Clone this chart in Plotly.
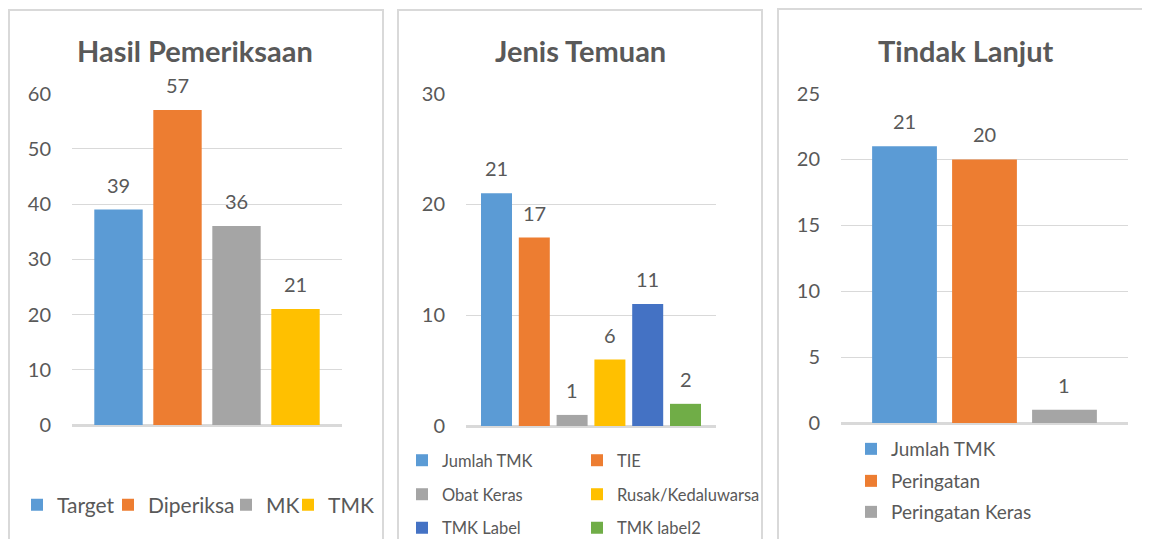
import plotly.graph_objects as go

# ---------------- data ----------------
p1_title = "Hasil Pemeriksaan"
p1_names = ["Target", "Diperiksa", "MK", "TMK"]
p1_values = [39, 57, 36, 21]
p1_ticks = [0, 10, 20, 30, 40, 50, 60]

p2_title = "Jenis Temuan"
p2_names = ["Jumlah TMK", "TIE", "Obat Keras", "Rusak/Kedaluwarsa", "TMK Label", "TMK label2"]
p2_values = [21, 17, 1, 6, 11, 2]
p2_ticks = [0, 10, 20, 30]

p3_title = "Tindak Lanjut"
p3_names = ["Jumlah TMK", "Peringatan", "Peringatan Keras"]
p3_values = [21, 20, 1]
p3_ticks = [0, 5, 10, 15, 20, 25]

# ---------------- styles ----------------
p1_colors = ["#5B9BD5", "#ED7D31", "#A5A5A5", "#FFC000"]
p2_colors = ["#5B9BD5", "#ED7D31", "#A5A5A5", "#FFC000", "#4472C4", "#70AD47"]
p3_colors = ["#5B9BD5", "#ED7D31", "#A5A5A5"]

FONT = "Lato"
TXT = "#595959"
GRID = "#d9d9d9"
W, H = 1150, 539
PAGE_OFF = 8  # page body margin


def px_x(v):
    return (v - PAGE_OFF) / W


def px_y(v):
    return 1 - (v - PAGE_OFF) / H


panels = [
    dict(title=p1_title, names=p1_names, values=p1_values, colors=p1_colors, ticks=p1_ticks,
         xd=(72, 342), yd=(425, 93.5), pad=0.288, bw=0.82, title_x=195,
         legends=["legend"] * 4, lw=[46, 73, 17, 60]),
    dict(title=p2_title, names=p2_names, values=p2_values, colors=p2_colors, ticks=p2_ticks,
         xd=(466, 716), yd=(426, 93.5), pad=0.307, bw=0.82, title_x=580,
         legends=["legend2", "legend2", "legend3", "legend3", "legend4", "legend4"],
         lw=[130, 170, 130, 170, 130, 170]),
    dict(title=p3_title, names=p3_names, values=p3_values, colors=p3_colors, ticks=p3_ticks,
         xd=(841, 1128), yd=(423, 93.5), pad=0.294, bw=0.81, title_x=966,
         legends=["legend5", "legend6", "legend7"], lw=[170, 170, 170]),
]

legend_pos = {
    "legend": (31, 505, 21),
    "legend2": (416, 460.5, 16.5),
    "legend3": (416, 494.5, 16.5),
    "legend4": (416, 528, 16.5),
    "legend5": (865, 449, 19),
    "legend6": (865, 481, 19),
    "legend7": (865, 512, 19),
}
LEG_OFF = 14

fig = go.Figure()
annotations = []
layout = dict(
    width=W, height=H, margin=dict(l=0, r=0, t=0, b=0, autoexpand=False),
    paper_bgcolor="white", plot_bgcolor="rgba(0,0,0,0)",
    barmode="overlay", font=dict(family=FONT, color=TXT),
)

for i, p in enumerate(panels):
    sfx = "" if i == 0 else str(i + 1)
    xa, ya = "x" + sfx, "y" + sfx
    n = len(p["names"])
    for j, (nm, v, c) in enumerate(zip(p["names"], p["values"], p["colors"])):
        fig.add_trace(go.Bar(
            x=[nm], y=[v], name=nm, xaxis=xa, yaxis=ya, width=p["bw"],
            marker=dict(color=c, line=dict(width=0)),
            legend=p["legends"][j], legendwidth=p["lw"][j],
            hoverinfo="x+y",
        ))
        annotations.append(dict(
            x=nm, y=v, xref=xa, yref=ya, text=str(v), showarrow=False,
            yanchor="middle", yshift=25, font=dict(family=FONT, size=20, color=TXT),
        ))
    layout["xaxis" + sfx] = dict(
        domain=[px_x(p["xd"][0]), px_x(p["xd"][1])], anchor=ya,
        type="category", categoryarray=p["names"],
        range=[-0.5 - p["pad"], n - 0.5 + p["pad"]],
        showticklabels=False, showgrid=False, zeroline=False, showline=False,
        fixedrange=True,
    )
    layout["yaxis" + sfx] = dict(
        domain=[px_y(p["yd"][0]), px_y(p["yd"][1])], anchor=xa,
        range=[0, max(p["ticks"])], tickvals=p["ticks"],
        showgrid=True, gridcolor=GRID, gridwidth=1,
        zeroline=True, zerolinecolor=GRID, zerolinewidth=2.5,
        showline=False, ticks="", ticklabelstandoff=20,
        tickfont=dict(family=FONT, size=20, color=TXT), fixedrange=True,
    )
    annotations.append(dict(
        x=px_x(p["title_x"]), y=px_y(50), xref="paper", yref="paper",
        text="<b>" + p["title"] + "</b>", showarrow=False,
        xanchor="center", yanchor="middle",
        font=dict(family=FONT, size=29, color=TXT),
    ))

for key, (lx, ly, fs) in legend_pos.items():
    layout[key] = dict(
        orientation="h", x=px_x(lx - LEG_OFF), y=px_y(ly),
        xanchor="left", yanchor="middle", bgcolor="rgba(0,0,0,0)",
        borderwidth=0, font=dict(family=FONT, size=fs, color=TXT),
        traceorder="normal",
    )

shapes = []
for (x0, x1, y1) in [(9, 383, 10), (398, 762, 10), (778, 1165, 9)]:
    shapes.append(dict(
        type="rect", xref="paper", yref="paper",
        x0=px_x(x0), x1=px_x(x1), y0=-0.05, y1=px_y(y1),
        line=dict(color="#d9d9d9", width=2), fillcolor="rgba(0,0,0,0)", layer="below",
    ))

layout["annotations"] = annotations
layout["shapes"] = shapes
fig.update_layout(**layout)
fig.write_html("out.html")
